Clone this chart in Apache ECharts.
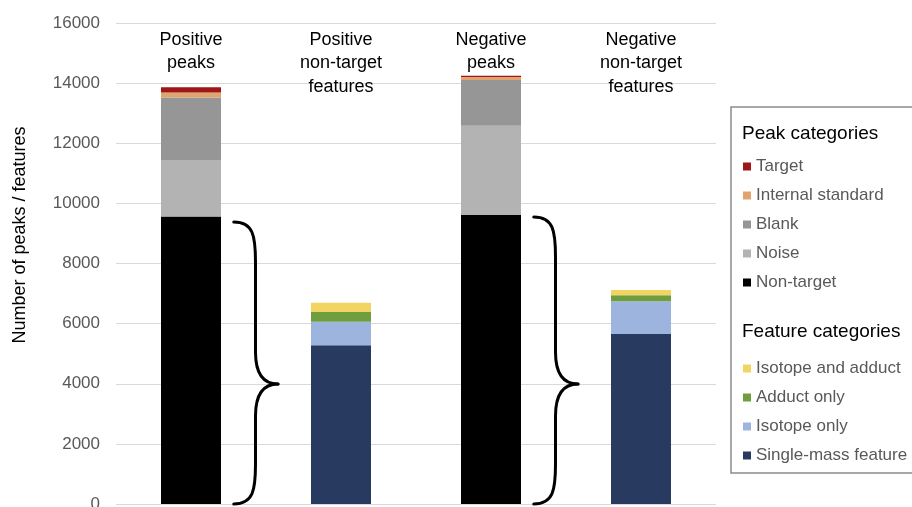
<!DOCTYPE html>
<html>
<head>
<meta charset="utf-8">
<script src="https://cdn.jsdelivr.net/npm/echarts@6/dist/echarts.min.js"></script>
<style>
html,body{margin:0;padding:0;background:#fff;}
#chart{width:912px;height:507px;}
</style>
</head>
<body>
<div id="chart"></div>
<script>
// ---- data ----
const categories = ['Positive\npeaks', 'Positive\nnon-target\nfeatures', 'Negative\npeaks', 'Negative\nnon-target\nfeatures'];
const yTicks = { min: 0, max: 16000, interval: 2000 };

// Peak categories (peaks bars)
const nonTarget        = [9560, null, 9610, null];
const noise            = [1880, null, 2975, null];
const blank            = [2080, null, 1520, null];
const internalStandard = [170,  null, 100,  null];
const target           = [170,  null, 40,   null];

// Feature categories (feature bars)
const singleMass       = [null, 5280, null, 5655];
const isotopeOnly      = [null, 785,  null, 1090];
const adductOnly       = [null, 320,  null, 200];
const isotopeAdduct    = [null, 310,  null, 175];

// Braces: [category index, bottom value, tip value, top value]
const braces = [[0, 0, 3990, 9380], [2, 0, 3990, 9550]];

const peakLegend = ['Target', 'Internal standard', 'Blank', 'Noise', 'Non-target'];
const featureLegend = ['Isotope and adduct', 'Adduct only', 'Isotope only', 'Single-mass feature'];

// ---- chart ----
const FONT = '"Liberation Sans", Arial, sans-serif';
const chart = echarts.init(document.getElementById('chart'), null, { renderer: 'canvas' });

function bar(name, data, color) {
  return {
    name, type: 'bar', stack: 'all', data, barWidth: '40%',
    itemStyle: { color },
    emphasis: { disabled: true },
    animation: false
  };
}

function renderBrace(params, api) {
  const idx = api.value(0);
  const band = api.size([1, 0])[0];
  const cx = api.coord([idx, 0])[0];
  const yB = api.coord([idx, api.value(1)])[1];
  const yM = api.coord([idx, api.value(2)])[1];
  const yT = api.coord([idx, api.value(3)])[1];
  const x0 = cx + band * 0.285;
  const xv = cx + band * 0.43;
  const xt = cx + band * 0.58;
  const dx = xv - x0;
  const style = { stroke: '#000', lineWidth: 3, fill: null, lineCap: 'round', lineJoin: 'round' };
  const r = 40, rm = 32;
  const children = [
    { type: 'bezierCurve', shape: { x1: x0, y1: yT, cpx1: x0 + dx * 0.9, cpy1: yT, cpx2: xv, cpy2: yT + r * 0.35, x2: xv, y2: yT + r }, style },
    { type: 'line', shape: { x1: xv, y1: yT + r, x2: xv, y2: yM - rm }, style },
    { type: 'bezierCurve', shape: { x1: xv, y1: yM - rm, cpx1: xv, cpy1: yM - rm * 0.3, cpx2: xv + (xt - xv) * 0.35, cpy2: yM, x2: xt, y2: yM }, style },
    { type: 'bezierCurve', shape: { x1: xt, y1: yM, cpx1: xv + (xt - xv) * 0.35, cpy1: yM, cpx2: xv, cpy2: yM + rm * 0.3, x2: xv, y2: yM + rm }, style },
    { type: 'line', shape: { x1: xv, y1: yM + rm, x2: xv, y2: yB - r }, style },
    { type: 'bezierCurve', shape: { x1: xv, y1: yB - r, cpx1: xv, cpy1: yB - r * 0.35, cpx2: x0 + dx * 0.9, cpy2: yB, x2: x0, y2: yB }, style }
  ];
  return { type: 'group', children };
}

const legendText = { fontSize: 17, color: '#595959', fontFamily: FONT };

const option = {
  backgroundColor: '#fff',
  animation: false,
  textStyle: { fontFamily: FONT },
  grid: { left: 116, right: 196, top: 23, bottom: 3, containLabel: false, outerBoundsMode: 'none' },
  xAxis: {
    type: 'category',
    data: categories,
    position: 'top',
    axisLine: { show: false },
    axisTick: { show: false },
    axisLabel: { inside: true, interval: 0, margin: 5, fontSize: 18, lineHeight: 23.5, color: '#000', fontFamily: FONT }
  },
  yAxis: {
    type: 'value',
    min: yTicks.min, max: yTicks.max, interval: yTicks.interval,
    axisLine: { show: false },
    axisTick: { show: false },
    axisLabel: { fontSize: 17, color: '#595959', margin: 16, fontFamily: FONT, formatter: (v) => String(v) },
    splitLine: { lineStyle: { color: '#D9D9D9', width: 1 } }
  },
  legend: [
    {
      data: peakLegend, orient: 'vertical', left: 738, top: 153,
      itemWidth: 8, itemHeight: 8, itemGap: 12, icon: 'rect',
      textStyle: legendText, selectedMode: false
    },
    {
      data: featureLegend, orient: 'vertical', left: 738, top: 355,
      itemWidth: 8, itemHeight: 8, itemGap: 12, icon: 'rect',
      textStyle: legendText, selectedMode: false
    }
  ],
  graphic: [
    { type: 'rect', shape: { x: 731, y: 107, width: 200, height: 366 }, style: { fill: null, stroke: '#8C8C8C', lineWidth: 1.5 }, silent: true },
    { type: 'text', x: 742, y: 134, style: { text: 'Peak categories', fontSize: 19, fill: '#000', fontFamily: FONT, verticalAlign: 'middle', align: 'left' }, silent: true },
    { type: 'text', x: 742, y: 332, style: { text: 'Feature categories', fontSize: 19, fill: '#000', fontFamily: FONT, verticalAlign: 'middle', align: 'left' }, silent: true },
    { type: 'text', x: 20, y: 235, rotation: Math.PI / 2, style: { text: 'Number of peaks / features', fontSize: 18, fill: '#000', fontFamily: FONT, verticalAlign: 'middle', align: 'center' }, silent: true }
  ],
  series: [
    bar('Non-target', nonTarget, '#000000'),
    bar('Noise', noise, '#B3B3B3'),
    bar('Blank', blank, '#969696'),
    bar('Internal standard', internalStandard, '#E0A46E'),
    bar('Target', target, '#9E1616'),
    bar('Single-mass feature', singleMass, '#283A5F'),
    bar('Isotope only', isotopeOnly, '#9DB5DE'),
    bar('Adduct only', adductOnly, '#6E9E3E'),
    bar('Isotope and adduct', isotopeAdduct, '#F1D462'),
    {
      type: 'custom', name: 'braces', data: braces, renderItem: renderBrace,
      encode: { x: 0, y: [1, 2, 3] }, silent: true, z: 5, clip: false
    }
  ]
};
chart.setOption(option);
</script>
</body>
</html>
